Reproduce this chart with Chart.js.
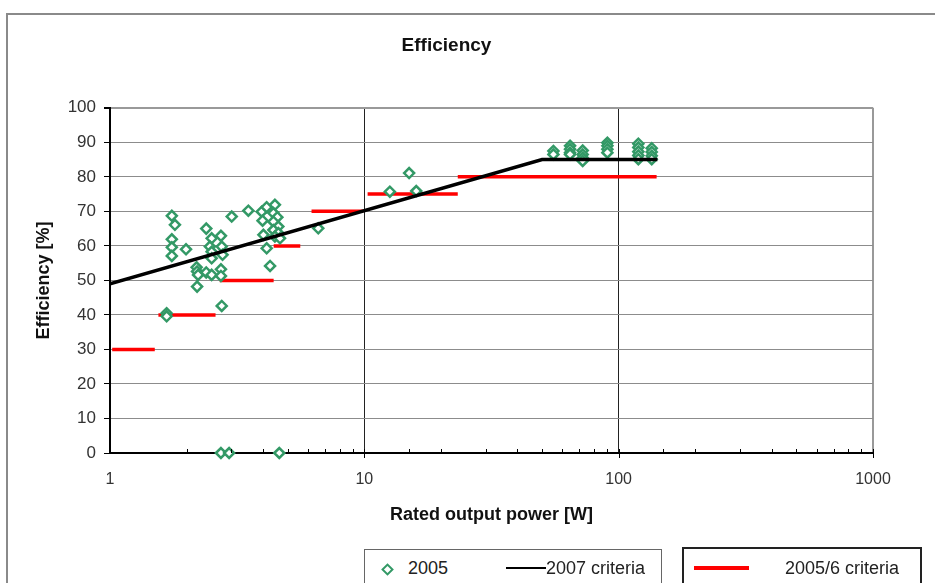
<!DOCTYPE html>
<html>
<head>
<meta charset="utf-8">
<script src="https://cdn.jsdelivr.net/npm/chart.js@4.4.1/dist/chart.umd.min.js"></script>
<style>
  body { margin: 0; background: #fff; font-family: "Liberation Sans", Arial, sans-serif; }
  #wrap { position: relative; width: 935px; height: 583px; overflow: hidden; }
  #frame { position: absolute; left: 6px; top: 13px; width: 1000px; height: 700px;
           border-left: 2px solid #8a8a8a; border-top: 2px solid #8a8a8a; }
  canvas { position: absolute; left: 0; top: 0; }
  .box { position: absolute; background: #fff; }
  .lbl { position: absolute; font-size: 18px; color: #222; line-height: 20px; white-space: nowrap; }
</style>
</head>
<body>
<div id="wrap">
  <div id="frame"></div>
  <canvas id="chart" width="935" height="583"></canvas>
  <div class="box" style="left:364px; top:549px; width:296px; height:50px; border:1px solid #666;"></div>
  <div style="position:absolute; left:383px; top:565px; width:5px; height:5px; border:2px solid #339966; transform:rotate(45deg);"></div>
  <div class="lbl" style="left:408px; top:558px;">2005</div>
  <div style="position:absolute; left:506px; top:567px; width:40px; height:2px; background:#000;"></div>
  <div class="lbl" style="left:546px; top:558px;">2007 criteria</div>
  <div class="box" style="left:682px; top:547px; width:236px; height:50px; border:2px solid #222;"></div>
  <div style="position:absolute; left:694px; top:566px; width:55px; height:4px; background:#ff0000;"></div>
  <div class="lbl" style="left:785px; top:558px;">2005/6 criteria</div>
</div>
<script>
// Valeurs
const powerTicks = [1, 10, 100, 1000];

// Mesures 2005 : puissance [W] et rendement [%]
const eff2005X = [
  1.75, 1.8, 1.75, 1.75, 1.75, 1.99, 2.2, 2.19, 2.2, 2.22,
  2.39, 2.51, 2.47, 2.51, 2.51, 2.39, 2.51, 2.73, 2.75, 2.77,
  2.73, 2.73, 3.01, 3.5, 3.95, 3.98, 4.13, 4.45, 4.39, 4.55,
  4.39, 4.59, 4.39, 4.59, 4.45, 4.01, 4.13, 4.26, 4.66, 1.67,
  1.67, 2.75, 2.73, 2.94, 4.63, 6.59, 15.0, 12.6, 16.0,
  55.4, 55.4, 64.4, 64.4, 64.4, 64.4, 72.2, 72.2, 72.2, 72.2,
  90.3, 90.3, 90.3, 90.3, 119.5, 119.5, 119.5, 119.5, 119.5,
  134.9, 134.9, 134.9, 134.9
];
const eff2005Y = [
  68.7, 66.1, 61.9, 59.6, 57.1, 59.0, 48.2, 53.8, 52.6, 51.6,
  65.0, 62.2, 59.8, 58.3, 56.4, 52.3, 51.6, 62.9, 59.8, 57.4,
  53.2, 51.3, 68.5, 70.2, 69.9, 67.3, 71.2, 71.9, 69.5, 68.3,
  67.0, 65.6, 64.6, 63.7, 62.7, 63.2, 59.3, 54.2, 62.2, 40.5,
  39.6, 42.6, 0, 0, 0, 65.1, 81.1, 75.7, 75.9,
  87.5, 86.5, 89.0, 88.0, 87.0, 86.5, 87.6, 86.5, 85.5, 84.6,
  89.9, 89.0, 88.0, 87.0, 89.6, 88.5, 87.3, 86.2, 85.1,
  88.3, 87.2, 86.1, 85.1
];

// Critère 2007
const crit2007X = [1, 50, 142];
const crit2007Y = [49, 85, 85];

// Critères 2005/6 : paliers
const critOldStart = [1.02, 1.55, 2.7, 4.4, 6.2, 10.3, 23.3];
const critOldEnd = [1.5, 2.6, 4.4, 5.6, 9.9, 23.3, 141];
const critOldLevel = [30, 40, 50, 60, 70, 75, 80];

const greenColor = "#339966";

// Construire les points
const scatterPoints = eff2005X.map((x, i) => ({ x: x, y: eff2005Y[i] }));
const line2007 = crit2007X.map((x, i) => ({ x: x, y: crit2007Y[i] }));
const stepPoints = [];
critOldLevel.forEach((lvl, i) => {
  stepPoints.push({ x: critOldStart[i], y: lvl });
  stepPoints.push({ x: critOldEnd[i], y: lvl });
  stepPoints.push({ x: critOldEnd[i], y: null });
});

function isPow10(v) {
  return powerTicks.includes(v);
}

// Petites graduations de l'axe des x
const minorTicksPlugin = {
  id: "minorTicks",
  afterDraw(chart) {
    const xs = chart.scales.x;
    const ctx = chart.ctx;
    const axisY = chart.chartArea.bottom;
    ctx.save();
    ctx.strokeStyle = "#000";
    ctx.lineWidth = 1;
    xs.ticks.forEach((t) => {
      const px = Math.round(xs.getPixelForValue(t.value)) + 0.5;
      ctx.beginPath();
      if (isPow10(t.value)) {
        if (t.value === 1) return;
        ctx.moveTo(px, axisY - 4);
        ctx.lineTo(px, axisY + 5);
      } else {
        ctx.moveTo(px, axisY - 4);
        ctx.lineTo(px, axisY);
      }
      ctx.stroke();
    });
    ctx.restore();
  },
};

const ctx = document.getElementById("chart").getContext("2d");

new Chart(ctx, {
  type: "scatter",
  data: {
    datasets: [
      {
        label: "2007 criteria",
        data: line2007,
        showLine: true,
        borderColor: "#000",
        borderWidth: 3.5,
        pointRadius: 0,
        order: 0,
      },
      {
        label: "2005",
        data: scatterPoints,
        pointStyle: "rectRot",
        pointRadius: 5,
        borderWidth: 2.5,
        borderColor: greenColor,
        backgroundColor: "#ffffff",
        clip: false,
        order: 1,
      },
      {
        label: "2005/6 criteria",
        data: stepPoints,
        showLine: true,
        spanGaps: false,
        borderColor: "#ff0000",
        borderWidth: 3.5,
        pointRadius: 0,
        order: 2,
      },
    ],
  },
  options: {
    responsive: false,
    animation: false,
    layout: {
      padding: { left: 20, right: 62, top: 0, bottom: 57 },
    },
    plugins: {
      legend: { display: false },
      tooltip: { enabled: false },
      title: {
        display: true,
        text: "Efficiency",
        color: "#111",
        font: { family: "Liberation Sans", size: 19, weight: "bold" },
        padding: { top: 34, bottom: 51 },
      },
    },
    scales: {
      x: {
        type: "logarithmic",
        min: 1,
        max: 1000,
        afterFit: (scale) => {
          scale.height = 73;
        },
        border: { color: "#000", width: 2 },
        grid: {
          drawTicks: false,
          color: (c) => {
            const v = c.tick && c.tick.value;
            if (v === 10 || v === 100) return "#222";
            if (v === 1000) return "#999";
            return "rgba(0,0,0,0)";
          },
          lineWidth: (c) => (c.tick && c.tick.value === 1000 ? 2 : 1),
        },
        ticks: {
          autoSkip: false,
          maxRotation: 0,
          padding: 17,
          color: "#333",
          font: { family: "Liberation Sans", size: 16 },
          callback: (v) => (isPow10(v) ? String(v) : ""),
        },
        title: {
          display: true,
          text: "Rated output power [W]",
          color: "#111",
          font: { family: "Liberation Sans", size: 18, weight: "bold" },
          padding: { top: 0, bottom: 0 },
        },
      },
      y: {
        min: 0,
        max: 100,
        afterFit: (scale) => {
          scale.width = 90;
        },
        border: { color: "#000", width: 2 },
        grid: {
          color: (c) => (c.tick && c.tick.value === 100 ? "#999" : "#8c8c8c"),
          lineWidth: (c) => (c.tick && c.tick.value === 100 ? 2 : 1),
          tickLength: 6,
          tickColor: "#000",
        },
        ticks: {
          stepSize: 10,
          padding: 8,
          color: "#333",
          font: { family: "Liberation Sans", size: 17 },
        },
        title: {
          display: true,
          text: "Efficiency [%]",
          color: "#111",
          font: { family: "Liberation Sans", size: 18, weight: "bold" },
          padding: { top: 13, bottom: 0 },
        },
      },
    },
  },
  plugins: [minorTicksPlugin],
});
</script>
</body>
</html>
